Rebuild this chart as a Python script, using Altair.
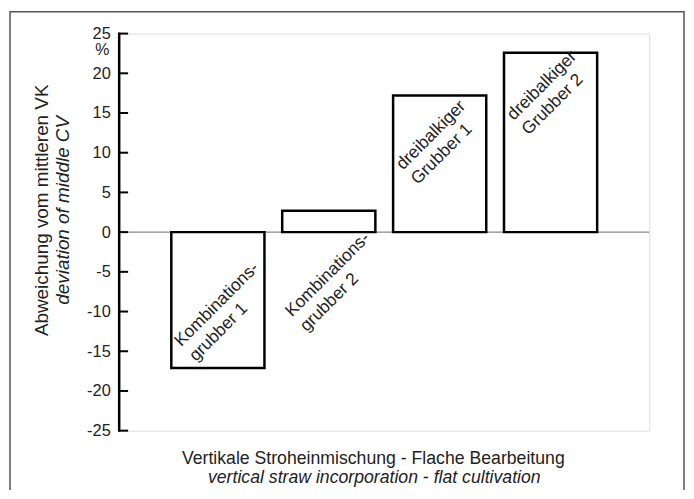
import altair as alt
import pandas as pd

# ---- data ----
categories = ["Kombinationsgrubber 1", "Kombinationsgrubber 2",
              "dreibalkiger Grubber 1", "dreibalkiger Grubber 2"]
values = [-17.1, 2.7, 17.2, 22.6]
bar_labels = ["Kombinations-\ngrubber 1", "Kombinations-\ngrubber 2",
              "dreibalkiger\nGrubber 1", "dreibalkiger\nGrubber 2"]
label_y = [-14.5, -10.75, 7.75, 14.0]
y_ticks = [-25, -20, -15, -10, -5, 0, 5, 10, 15, 20, 25]

y_title_de = "Abweichung vom mittleren VK"
y_title_en = "deviation of middle CV"
x_title_de = "Vertikale Stroheinmischung - Flache Bearbeitung"
x_title_en = "vertical straw incorporation - flat cultivation"
unit_label = "%"

FONT = "Liberation Sans"

df = pd.DataFrame({"cat": categories, "value": values,
                   "label": bar_labels, "ly": label_y})
ticks_df = pd.DataFrame({"t": y_ticks})
one = pd.DataFrame({"a": [0]})

x_enc = alt.X("cat:N", sort=categories, axis=None,
              scale=alt.Scale(paddingInner=0.16, paddingOuter=0.47))
y_scale = alt.Scale(domain=[-25, 25], nice=False)
y_axis = alt.Axis(values=y_ticks, title=None, ticks=False, grid=False,
                  domain=False, labelExpr="'' + datum.value",
                  labelFont=FONT, labelFontSize=16.5, labelColor="#222222",
                  labelPadding=9)

zero_line = alt.Chart(one).mark_rule(color="#888888", strokeWidth=1.5).encode(
    y=alt.Y("a:Q", scale=y_scale, axis=y_axis),
    x=alt.value(0), x2=alt.value(534)
)

bars = alt.Chart(df).mark_bar(fill="white", stroke="black", strokeWidth=2.5).encode(
    x=x_enc,
    y=alt.Y("value:Q", scale=y_scale, axis=y_axis),
)

labels = alt.Chart(df).mark_text(
    align="left", baseline="alphabetic", angle=315, xOffset=-37,
    font=FONT, fontSize=17.5, lineHeight=21, lineBreak="\n", color="#222222"
).encode(
    x=x_enc,
    y=alt.Y("ly:Q", scale=y_scale, axis=y_axis),
    text="label:N",
)

tick_marks = alt.Chart(ticks_df).mark_rule(color="black", strokeWidth=2).encode(
    y=alt.Y("t:Q", scale=y_scale, axis=y_axis),
    x=alt.value(0), x2=alt.value(9),
)

axis_line = alt.Chart(one).mark_rule(color="black", strokeWidth=2.5).encode(
    x=alt.value(0), y=alt.value(-1), y2=alt.value(401)
)

def txt(s, x, y, angle=0, italic=False, size=18, align="center"):
    return alt.Chart(one).mark_text(
        text=s, font=FONT, fontSize=size, angle=angle, align=align,
        baseline="middle", fontStyle="italic" if italic else "normal",
        color="#222222"
    ).encode(x=alt.value(x), y=alt.value(y))

annotations = [
    txt(y_title_de, -78, 178, angle=270, size=19),
    txt(y_title_en, -57, 178, angle=270, italic=True, size=19),
    txt(x_title_de, 256, 429, size=17.8),
    txt(x_title_en, 257, 448, italic=True, size=17.8),
    txt(unit_label, -10, 16.5, size=16, align="right"),
]

outer = alt.Chart(one).mark_rect(fillOpacity=0, stroke="#555555", strokeWidth=1.5).encode(
    x=alt.value(-110), x2=alt.value(569), y=alt.value(-22), y2=alt.value(520)
)

chart = alt.layer(zero_line, bars, tick_marks, axis_line, labels, outer, *annotations).properties(
    width=534, height=400,
    autosize=alt.AutoSizeParams(type="none"),
    padding={"left": 112, "top": 24, "right": 37, "bottom": 58},
).configure_view(stroke="#808080", strokeWidth=2).configure(background="white")

chart.save("out.html", embed_options={"renderer": "svg", "actions": False})
